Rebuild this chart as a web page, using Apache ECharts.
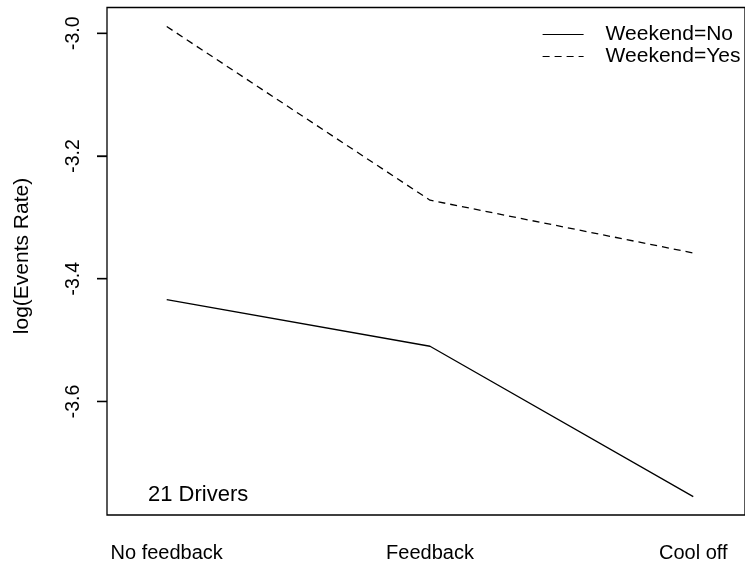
<!DOCTYPE html>
<html>
<head>
<meta charset="utf-8">
<script src="https://cdn.jsdelivr.net/npm/echarts@6.0.0/dist/echarts.min.js"></script>
<style>
html,body{margin:0;padding:0;background:#fff;}
#chart{width:745px;height:565px;}
</style>
</head>
<body>
<div id="chart"></div>
<script>
var categories = ['No feedback', 'Feedback', 'Cool off'];
var weekendNo = [-3.434, -3.510, -3.755];
var weekendYes = [-2.989, -3.272, -3.358];
var yTicks = [-3.6, -3.4, -3.2, -3.0];
var seriesNames = ['Weekend=No', 'Weekend=Yes'];
var yTitle = 'log(Events Rate)';
var note = '21 Drivers';

var FONT = '"Liberation Sans", Arial, Helvetica, sans-serif';
// x scale: left edge of the plot is x = 0, categories sit at X_OFF + index
var X_OFF = 0.2268, X_MAX = 2.4233;

function toPairs(arr) {
  return arr.map(function (v, i) { return [X_OFF + i, v]; });
}
var catPos = categories.map(function (c, i) { return X_OFF + i; });
var tickData = yTicks.map(function (v) { return [0, v]; });

var chart = echarts.init(document.getElementById('chart'), null, {renderer: 'canvas'});
chart.setOption({
  animation: false,
  backgroundColor: '#ffffff',
  textStyle: {fontFamily: FONT, color: '#000'},
  grid: {
    left: 107, top: 7.5, right: -3, bottom: 50,
    show: true, borderColor: '#000', borderWidth: 1.3, backgroundColor: 'transparent'
  },
  xAxis: {
    type: 'value',
    min: 0, max: X_MAX,
    axisLine: {show: false},
    axisTick: {show: false},
    splitLine: {show: false},
    axisLabel: {
      customValues: catPos,
      formatter: function (v) { return categories[Math.round(v - X_OFF)] || ''; },
      fontSize: 20, fontFamily: FONT, color: '#000', margin: 28,
      showMinLabel: true, showMaxLabel: true
    }
  },
  yAxis: {
    type: 'value',
    min: -3.785, max: -2.958,
    axisLine: {show: false},
    splitLine: {show: false},
    axisTick: {
      show: true, customValues: yTicks, length: 10,
      lineStyle: {color: '#000', width: 1.3}
    },
    axisLabel: {
      customValues: yTicks,
      rotate: 90,
      formatter: function (v) { return v.toFixed(1); },
      fontSize: 19.5, fontFamily: FONT, color: '#000', margin: 23
    }
  },
  legend: {
    orient: 'vertical',
    left: 542, top: 24, padding: 0,
    itemWidth: 41, itemHeight: 14, itemGap: 1,
    itemStyle: {opacity: 0},
    lineStyle: {width: 1.2},
    textStyle: {fontSize: 21, fontFamily: FONT, color: '#000', padding: [0, 0, 0, 17]},
    data: seriesNames
  },
  graphic: [
    {
      type: 'text', x: 22, y: 256, rotation: Math.PI / 2,
      style: {text: yTitle, font: '21px ' + FONT, fill: '#000', align: 'center', verticalAlign: 'middle'}
    },
    {
      type: 'text', x: 148, y: 495,
      style: {text: note, font: '22px ' + FONT, fill: '#000', align: 'left', verticalAlign: 'middle'}
    }
  ],
  series: [
    {
      name: seriesNames[0], type: 'line', data: toPairs(weekendNo),
      symbol: 'none', color: '#000',
      lineStyle: {color: '#000', width: 1.3, type: 'solid'}
    },
    {
      name: seriesNames[1], type: 'line', data: toPairs(weekendYes),
      symbol: 'none', color: '#000',
      lineStyle: {color: '#000', width: 1.3, type: [7, 5]}
    },
    {
      // outward y-axis tick marks, placed through the axis scale
      name: 'yTickMarks', type: 'custom', clip: false, silent: true, z: 10,
      data: tickData,
      encode: {x: 0, y: 1},
      renderItem: function (params, api) {
        var p = api.coord([api.value(0), api.value(1)]);
        return {
          type: 'line',
          shape: {x1: p[0] - 10, y1: p[1], x2: p[0], y2: p[1]},
          style: {stroke: '#000', lineWidth: 1.3, fill: null}
        };
      }
    }
  ]
});
</script>
</body>
</html>
